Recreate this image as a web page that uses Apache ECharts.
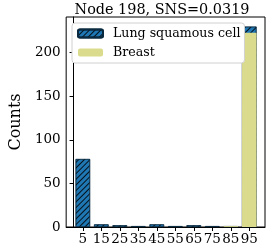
<!DOCTYPE html>
<html><head><meta charset="utf-8">
<script src="https://cdn.jsdelivr.net/npm/echarts@6/dist/echarts.min.js"></script>
<style>html,body{margin:0;padding:0;background:#fff}#c{width:269px;height:246px}</style>
</head><body><div id="c"></div>
<script>
const binCenters = [5, 15, 25, 35, 45, 55, 65, 75, 85, 95];
const lungCounts = [78, 3, 2, 1, 3, 1, 2, 1, 0, 7];
const breastCounts = [0, 0, 0, 0, 0, 0, 0, 0, 1, 223];
const xTicks = [5, 15, 25, 35, 45, 55, 65, 75, 85, 95];
const yTicks = [0, 50, 100, 150, 200];
const titleText = 'Node 198, SNS=0.0319';
const seriesNames = ['Lung squamous cell', 'Breast'];

const font = '"DejaVu Serif", serif';
// stacked: lung sits on top of breast, so its bar reaches breast + lung
const lungTop = binCenters.map((x, i) => [x, breastCounts[i] + lungCounts[i]]);
const chart = echarts.init(document.getElementById('c'), null, {renderer: 'canvas'});
chart.setOption({
  animation: false,
  backgroundColor: '#fff',
  title: {text: titleText, left: 157, textAlign: 'center', top: -2,
    textStyle: {fontFamily: font, fontSize: 14.4, fontWeight: 'normal', color: '#000'}},
  grid: {left: 49, right: 4, top: 17, bottom: 18, show: true, borderColor: '#000', borderWidth: 1, backgroundColor: 'transparent'},
  legend: {
    data: seriesNames, orient: 'vertical', left: 72, top: 23,
    itemWidth: 25, itemHeight: 8, itemGap: 6,
    padding: [4, 4, 4, 5],
    backgroundColor: '#fff', borderColor: '#d0d0d0', borderWidth: 1, borderRadius: 3,
    textStyle: {fontFamily: font, fontSize: 12.6, color: '#000', padding: [0, 0, 0, 5]}
  },
  xAxis: {
    type: 'value', min: -4, max: 103.5,
    axisLine: {show: true, lineStyle: {color: '#000'}},
    axisTick: {show: true, inside: false, length: 4, customValues: xTicks, lineStyle: {color: '#000'}},
    axisLabel: {customValues: xTicks, fontFamily: font, fontSize: 13.5, color: '#000', margin: 5},
    splitLine: {show: false}
  },
  yAxis: {
    type: 'value', min: 0, max: 241,
    name: 'Counts', nameLocation: 'middle', nameGap: 38,
    nameTextStyle: {fontFamily: font, fontSize: 16, color: '#000'},
    axisLine: {show: true, lineStyle: {color: '#000'}},
    axisTick: {show: true, length: 4, customValues: yTicks, lineStyle: {color: '#000'}},
    axisLabel: {customValues: yTicks, fontFamily: font, fontSize: 13.5, color: '#000', margin: 5.5},
    splitLine: {show: false}
  },
  series: [
    {
      name: seriesNames[0], type: 'bar', barWidth: 14.5, barGap: '-100%',
      data: lungTop,
      itemStyle: {color: '#1f77b4', borderColor: '#0a2a40', borderWidth: 0.6,
        decal: {symbol: 'rect', symbolSize: 1, color: 'rgba(0,0,0,0.85)', dashArrayX: [1, 0], dashArrayY: [1, 2.2], rotation: -Math.PI / 4}}
    },
    {
      name: seriesNames[1], type: 'bar', barWidth: 14.5, barGap: '-100%',
      data: binCenters.map((x, i) => [x, breastCounts[i]]),
      itemStyle: {color: '#dbdb8d'}
    }
  ]
});
</script></body></html>
